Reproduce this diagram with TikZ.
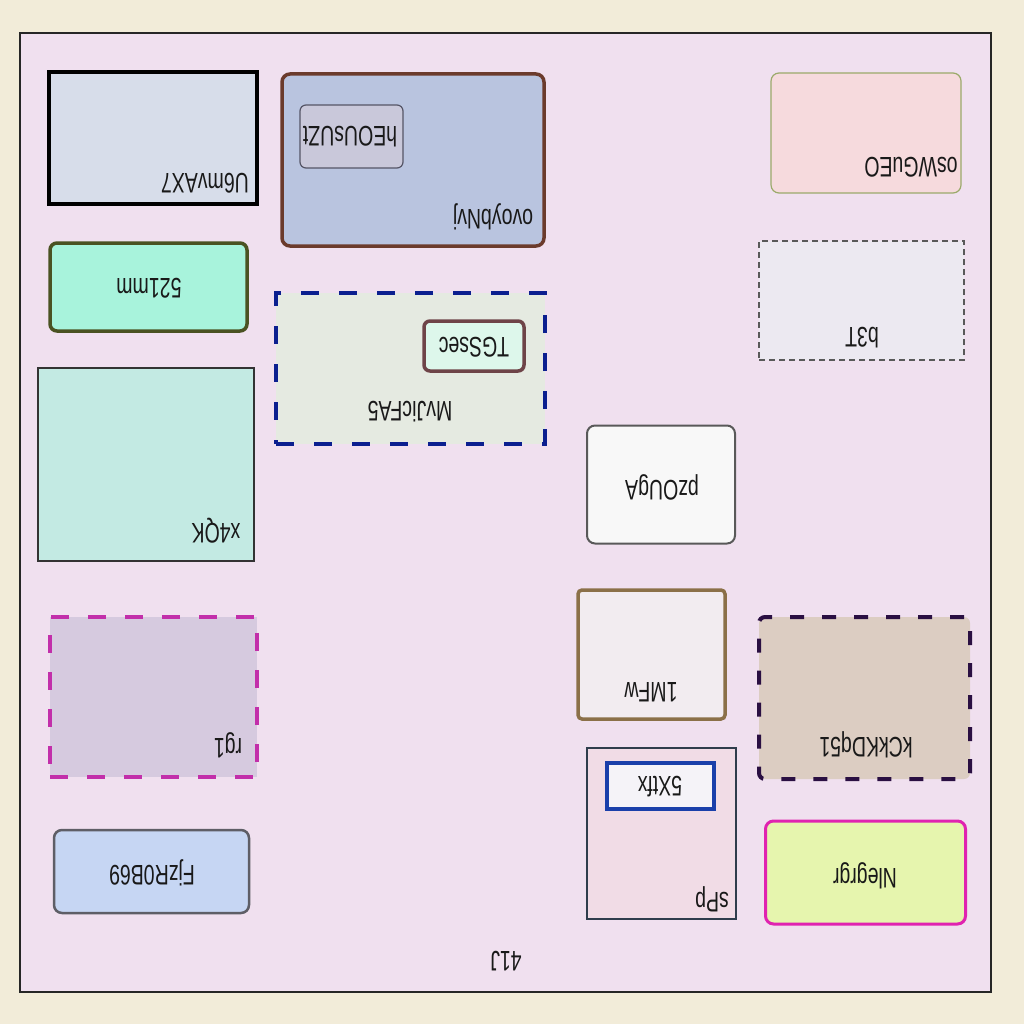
\documentclass[tikz,border=0pt]{standalone}
\usepackage{fontspec}
\setmainfont{Liberation Sans}
\definecolor{bgcream}{HTML}{F2ECD9}
\definecolor{framefill}{HTML}{F0E0EF}
\tikzset{
  box/.style={minimum width=#1, inner sep=0pt, outer sep=0pt},
  lbl/.style={font=\fontsize{19.5}{22}\selectfont, rotate=180, yscale=1.45, inner sep=0pt, text=black!90},
}
\begin{document}
\begin{tikzpicture}[x=1pt,y=-1pt]
\useasboundingbox (0,0) rectangle (1024,1024);
\fill[bgcream] (0,0) rectangle (1024,1024);
% outer frame
\node[draw=black!85, line width=2pt, fill=framefill, minimum width=971pt, minimum height=959pt, inner sep=0pt] (frame) at (505.5,512.5) {};
\node[lbl] (lframe) at (506,961) {41J};

% U6mvAX7
\node[draw=black, line width=4pt, fill={rgb,255:red,215;green,221;blue,234}, minimum width=208pt, minimum height=132pt, inner sep=0pt] (u6) at (153,138) {};
\node[lbl] (lu6) at (205,183) {U6mvAX7};

% ovoybNvj container
\node[draw={rgb,255:red,107;green,59;blue,44}, line width=3.5pt, fill={rgb,255:red,185;green,196;blue,223}, rounded corners=8pt, minimum width=262pt, minimum height=172pt, inner sep=0pt] (ov) at (413,160) {};
\node[lbl] (lov) at (493,217) {ovoybNvj};
\node[draw={rgb,255:red,85;green,85;blue,102}, line width=1.2pt, fill={rgb,255:red,201;green,200;blue,218}, rounded corners=6pt, minimum width=103pt, minimum height=63pt, inner sep=0pt] (he) at (351.5,136.5) {};
\node[lbl] (lhe) at (350,137) {hEOUsUZt};

% 521mm
\node[draw={rgb,255:red,74;green,82;blue,34}, line width=3.5pt, fill={rgb,255:red,168;green,243;blue,220}, rounded corners=7pt, minimum width=197pt, minimum height=88pt, inner sep=0pt] (m5) at (148.5,287) {};
\node[lbl] (lm5) at (149,288) {521mm};

% MvJicFA5 container
\node[draw={rgb,255:red,11;green,31;blue,143}, line width=3.5pt, dash pattern=on 18pt off 20pt, fill={rgb,255:red,229;green,234;blue,225}, minimum width=269pt, minimum height=151pt, inner sep=0pt] (mv) at (410.5,368.5) {};
\node[lbl] (lmv) at (410,412) {MvJicFA5};
\node[draw={rgb,255:red,110;green,68;blue,72}, line width=3.5pt, fill={rgb,255:red,221;green,247;blue,235}, rounded corners=6pt, minimum width=100pt, minimum height=50pt, inner sep=0pt] (tg) at (474,346) {};
\node[lbl] (ltg) at (474,347) {TGSsec};

% x4QK
\node[draw=black!80, line width=2pt, fill={rgb,255:red,195;green,234;blue,227}, minimum width=216pt, minimum height=193pt, inner sep=0pt] (x4) at (146,464.5) {};
\node[lbl] (lx4) at (216,531) {x4QK};

% rg1
\node[draw={rgb,255:red,194;green,47;blue,170}, line width=4.5pt, dash pattern=on 18pt off 19pt, fill={rgb,255:red,214;green,202;blue,223}, minimum width=207pt, minimum height=160pt, inner sep=0pt] (rg) at (153.5,697) {};
\node[lbl] (lrg) at (228,745) {rg1};

% FjzR0B69
\node[draw={rgb,255:red,94;green,94;blue,102}, line width=2.5pt, fill={rgb,255:red,198;green,214;blue,243}, rounded corners=8pt, minimum width=195pt, minimum height=83pt, inner sep=0pt] (fj) at (151.5,871.5) {};
\node[lbl] (lfj) at (152,873) {FjzR0B69};

% osWGuEO
\node[draw={rgb,255:red,155;green,170;blue,106}, line width=1.2pt, fill={rgb,255:red,246;green,218;blue,221}, rounded corners=8pt, minimum width=190pt, minimum height=120pt, inner sep=0pt] (os) at (866,133) {};
\node[lbl] (los) at (911,167) {osWGuEO};

% b3T
\node[draw=black!65, line width=1.2pt, dash pattern=on 6pt off 4pt, fill={rgb,255:red,236;green,233;blue,241}, minimum width=205pt, minimum height=119pt, inner sep=0pt] (b3) at (861.5,300.5) {};
\node[lbl] (lb3) at (862,338) {b3T};

% pzOUgA
\node[draw=black!65, line width=2pt, fill={rgb,255:red,248;green,248;blue,248}, rounded corners=8pt, minimum width=148pt, minimum height=118pt, inner sep=0pt] (pz) at (661,484.5) {};
\node[lbl] (lpz) at (662,487) {pzOUgA};

% 1MFw
\node[draw={rgb,255:red,139;green,112;blue,72}, line width=3.5pt, fill={rgb,255:red,242;green,236;blue,240}, rounded corners=4pt, minimum width=147pt, minimum height=129pt, inner sep=0pt] (mf) at (651.5,654.5) {};
\node[lbl] (lmf) at (651,692) {1MFw};

% kCkKDq51
\node[draw={rgb,255:red,42;green,15;blue,66}, line width=4pt, dash pattern=on 14pt off 18pt, fill={rgb,255:red,220;green,205;blue,194}, rounded corners=6pt, minimum width=211pt, minimum height=162pt, inner sep=0pt] (kc) at (864.5,698) {};
\node[lbl] (lkc) at (866,745) {kCkKDq51};

% sPp container
\node[draw={rgb,255:red,47;green,61;blue,76}, line width=2pt, fill={rgb,255:red,241;green,220;blue,230}, minimum width=149pt, minimum height=171pt, inner sep=0pt] (sp) at (661.5,833.5) {};
\node[lbl] (lsp) at (712,899) {sPp};
\node[draw={rgb,255:red,26;green,63;blue,170}, line width=4pt, fill={rgb,255:red,245;green,243;blue,248}, minimum width=107pt, minimum height=46pt, inner sep=0pt] (fx) at (660.5,786) {};
\node[lbl] (lfx) at (660,787) {5Xtfx};

% Nlegrgr
\node[draw={rgb,255:red,224;green,35;blue,176}, line width=3pt, fill={rgb,255:red,230;green,245;blue,174}, rounded corners=8pt, minimum width=200pt, minimum height=103pt, inner sep=0pt] (nl) at (865.5,872.5) {};
\node[lbl] (lnl) at (865,876) {Nlegrgr};
\end{tikzpicture}
\end{document}
